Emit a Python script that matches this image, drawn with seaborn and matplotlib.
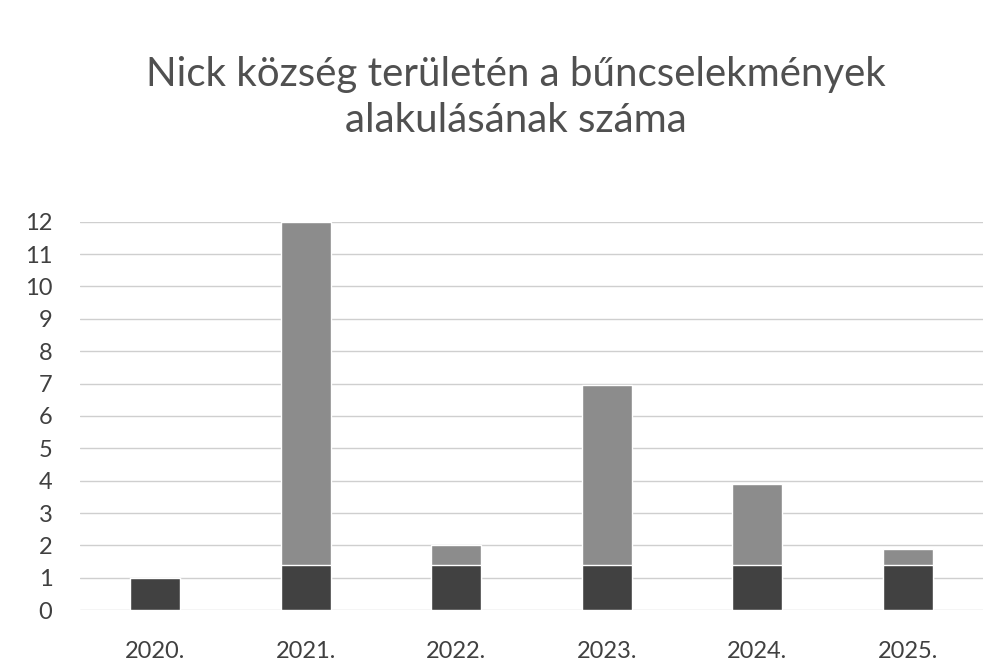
import numpy as np
import pandas as pd
import matplotlib.pyplot as plt
import seaborn as sns

# --- data ---
years = ["2020.", "2021.", "2022.", "2023.", "2024.", "2025."]
lower = [1, 1.4, 1.4, 1.4, 1.4, 1.4]     # dark segment
upper = [0, 10.6, 0.6, 5.55, 2.5, 0.5]   # grey segment on top
yticks = list(range(0, 13))

df = pd.DataFrame({"ev": years, "also": lower, "felso": upper})
df["osszes"] = df["also"] + df["felso"]

sns.set_theme(style="white")
plt.rcParams['font.family'] = ['Lato', 'DejaVu Sans']

fig = plt.figure(figsize=(10.01, 6.72), dpi=100)
ax = fig.add_axes([0.08, 0.092, 0.902, 0.578])

# total bars first (grey), then the dark part over them
sns.barplot(data=df, x="ev", y="osszes", color="#8c8c8c", width=0.33,
            saturation=1, edgecolor="white", linewidth=1, ax=ax, zorder=3)
sns.barplot(data=df, x="ev", y="also", color="#414141", width=0.33,
            saturation=1, edgecolor="white", linewidth=1, ax=ax, zorder=4)

ax.set_ylim(0, 12)
ax.set_xlim(-0.5, len(years) - 0.5)
ax.set_yticks(yticks)
ax.set_yticklabels([str(t) for t in yticks], fontsize=17, color="#404040")
ax.tick_params(axis="x", labelsize=17, labelcolor="#404040", pad=22)
ax.tick_params(axis="y", pad=20)
ax.tick_params(length=0)
ax.yaxis.grid(True, color="#cfcfcf", linewidth=1, zorder=0)
ax.set_axisbelow(True)
for s in ax.spines.values():
    s.set_visible(False)
ax.set_xlabel("")
ax.set_ylabel("")

fig.text(0.515, 0.855, "Nick község területén a bűncselekmények\nalakulásának száma",
         fontsize=29, color="#505050",
         ha="center", va="center", linespacing=1.28, multialignment="center")

fig.savefig("out.png", dpi=100)
